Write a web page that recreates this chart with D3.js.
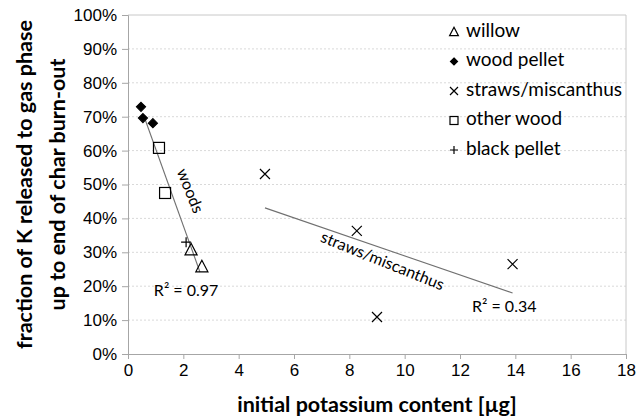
<!DOCTYPE html>
<html>
<head>
<meta charset="utf-8">
<script src="https://cdn.jsdelivr.net/npm/d3@7"></script>
<style>
  body { margin: 0; background: #fff; }
  svg { display: block; font-family: Lato, "Open Sans", sans-serif; }
  .tick text { font-size: 17px; fill: #000; }
  .axis-title { font-size: 21.5px; font-weight: bold; fill: #000; }
  .legend-caption { font-size: 19px; fill: #000; }
  .note { font-size: 16px; fill: #000; }
</style>
</head>
<body>
<svg id="chart" width="639" height="419"></svg>
<script>
// tick labels
const xTickValues = [0, 2, 4, 6, 8, 10, 12, 14, 16, 18];
const yTickValues = [0, 0.1, 0.2, 0.3, 0.4, 0.5, 0.6, 0.7, 0.8, 0.9, 1.0];

// series: [initial K (µg), fraction released]
const willow = [[2.28, 0.307], [2.67, 0.257]];
const woodPellet = [[0.47, 0.729], [0.54, 0.696], [0.90, 0.681]];
const straws = [[4.95, 0.531], [8.27, 0.363], [13.9, 0.265], [9.0, 0.109]];
const otherWood = [[1.12, 0.608], [1.34, 0.475]];
const blackPellet = [[2.10, 0.330]];

// trend lines (end points)
const woodsTrend = [[0.60, 0.696], [2.60, 0.242]];
const strawsTrend = [[4.95, 0.431], [13.9, 0.180]];

const seriesNames = ["willow", "wood pellet", "straws/miscanthus", "other wood", "black pellet"];

const dimensions = {
  width: 639, height: 419,
  margin: { top: 15, right: 13, bottom: 65, left: 128 }
};

const svg = d3.select("#chart");
const m = dimensions.margin;

const x = d3.scaleLinear()
  .domain([0, 18])
  .range([m.left, dimensions.width - m.right]);

const y = d3.scaleLinear()
  .domain([0, 1])
  .range([dimensions.height - m.bottom, m.top]);

// gridlines
svg.append("g")
  .selectAll("line")
  .data(yTickValues.slice(1, -1))
  .enter()
    .append("line")
    .attr("x1", x(0))
    .attr("x2", x(18))
    .attr("y1", d => y(d))
    .attr("y2", d => y(d))
    .attr("stroke", "#d9d9d9")
    .attr("stroke-dasharray", "2,2");

// plot border top / right
svg.append("path")
  .attr("d", `M${x(0)},${y(1)}H${x(18)}V${y(0)}`)
  .attr("fill", "none")
  .attr("stroke", "#c8c8c8");

// axes
const xAxis = svg.append("g")
  .attr("transform", `translate(0,${y(0)})`)
  .call(d3.axisBottom(x).tickValues(xTickValues).tickSize(5).tickPadding(5));
const yAxis = svg.append("g")
  .attr("transform", `translate(${x(0)},0)`)
  .call(d3.axisLeft(y).tickValues(yTickValues).tickSize(6).tickPadding(5)
    .tickFormat(d3.format(".0%")));
[xAxis, yAxis].forEach(a => {
  a.selectAll(".domain").attr("stroke", "#a6a6a6");
  a.selectAll(".tick line").attr("stroke", "#a6a6a6");
});

// trend lines
const line = d3.line().x(d => x(d[0])).y(d => y(d[1]));
svg.append("g")
  .selectAll("path")
  .data([woodsTrend, strawsTrend])
  .enter()
    .append("path")
    .attr("d", line)
    .attr("fill", "none")
    .attr("stroke", "#707070")
    .attr("stroke-width", 1.1);

// marker shapes
function marker(g, type, s) {
  const st = { fill: "none", stroke: "#000", "stroke-width": 1.2 };
  let el;
  if (type == "willow") {
    el = g.append("path").attr("d", `M0,${-s * 0.6}L${s * 0.55},${s * 0.45}L${-s * 0.55},${s * 0.45}Z`);
  } else if (type == "wood pellet") {
    el = g.append("path").attr("d", `M0,${-s / 2}L${s / 2},0L0,${s / 2}L${-s / 2},0Z`);
    st.fill = "#000";
  } else if (type == "straws/miscanthus") {
    el = g.append("path").attr("d", `M${-s / 2},${-s / 2}L${s / 2},${s / 2}M${s / 2},${-s / 2}L${-s / 2},${s / 2}`);
  } else if (type == "other wood") {
    el = g.append("rect").attr("x", -s / 2).attr("y", -s / 2).attr("width", s).attr("height", s);
  } else {
    el = g.append("path").attr("d", `M${-s / 2},0H${s / 2}M0,${-s / 2}V${s / 2}`);
  }
  Object.entries(st).forEach(([k, v]) => el.attr(k, v));
}

const seriesData = [willow, woodPellet, straws, otherWood, blackPellet];
const markerSize = [11, 9, 10, 11, 10];

seriesData.forEach((data, i) => {
  data.forEach(d => {
    const g = svg.append("g").attr("transform", `translate(${x(d[0])},${y(d[1])})`);
    marker(g, seriesNames[i], markerSize[i]);
  });
});

// trend labels
svg.append("text")
  .attr("class", "note")
  .attr("transform", `translate(${x(2.2)},${y(0.48)}) rotate(68)`)
  .attr("text-anchor", "middle")
  .attr("dominant-baseline", "middle")
  .text("woods");
svg.append("text")
  .attr("class", "note")
  .attr("transform", `translate(${x(9.18)},${y(0.271)}) rotate(22)`)
  .attr("text-anchor", "middle")
  .attr("dominant-baseline", "middle")
  .text("straws/miscanthus");
svg.append("text")
  .attr("class", "note")
  .attr("x", x(2.1)).attr("y", y(0.183))
  .attr("text-anchor", "middle")
  .attr("dominant-baseline", "middle")
  .text("R² = 0.97");
svg.append("text")
  .attr("class", "note")
  .attr("x", x(13.6)).attr("y", y(0.136))
  .attr("text-anchor", "middle")
  .attr("dominant-baseline", "middle")
  .text("R² = 0.34");

// legend
const legend = svg.append("g");
seriesNames.forEach((name, i) => {
  const ly = 32 + i * 29.5;
  const g = legend.append("g").attr("transform", `translate(454,${ly})`);
  marker(g, name, [8, 7, 8, 8, 8][i]);
  legend.append("text")
    .attr("class", "legend-caption")
    .attr("x", 466)
    .attr("y", ly)
    .attr("dominant-baseline", "middle")
    .text(name);
});

// axis titles
svg.append("text")
  .attr("class", "axis-title")
  .attr("x", x(9))
  .attr("y", 406)
  .attr("text-anchor", "middle")
  .attr("dominant-baseline", "middle")
  .text("initial potassium content [µg]");
const yt = svg.append("text")
  .attr("class", "axis-title")
  .attr("transform", `translate(32,${y(0.5)}) rotate(-90)`)
  .attr("text-anchor", "middle");
yt.append("tspan").attr("x", 0).attr("dy", 0).text("fraction of K released to gas phase");
yt.append("tspan").attr("x", 0).attr("dy", 33).text("up to end of char burn-out");
</script>
</body>
</html>
